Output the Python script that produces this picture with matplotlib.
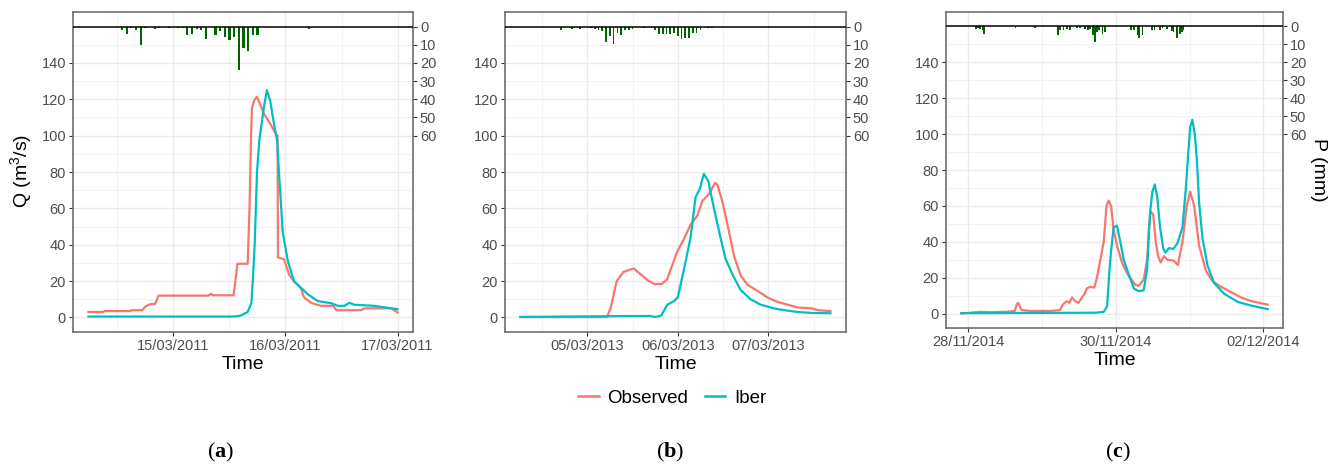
import numpy as np
import pandas as pd
import matplotlib
matplotlib.use("Agg")
import matplotlib.pyplot as plt
from matplotlib.lines import Line2D

plt.rcParams['font.family'] = ['Liberation Sans', 'DejaVu Sans']
plt.rcParams['mathtext.fontset'] = 'custom'
plt.rcParams['mathtext.rm'] = 'Liberation Sans'
plt.rcParams['mathtext.bf'] = 'Liberation Serif:bold'

# ---- Event (a): hours counted from 14/03/2011 00:00 ----
start_a = "2011-03-14"
obs_a_h = [5.8, 8.9, 9.3, 14.7, 15.1, 17.3, 18.0, 19.0, 20.1, 20.8, 31.5, 32.0, 32.5,
           36.9, 37.7, 39.9, 40.3, 40.6, 40.8, 41.3, 41.9, 43.4, 44.9, 45.9, 46.3,
           46.4, 47.7, 48.75, 49.8, 51.3, 52.0, 53.5, 55.6, 58.2, 58.9, 64.2, 64.9,
           70.7, 72.0]
obs_a_q = [3.0, 3.0, 3.5, 3.5, 4.0, 4.0, 6.0, 7.3, 7.5, 12.0, 12.0, 13.0, 12.2,
           12.2, 29.5, 29.5, 60.0, 97.0, 115.0, 119.5, 121.4, 112.0, 105.8, 101.0, 100.0,
           33.0, 32.0, 23.6, 20.0, 16.0, 11.0, 8.0, 6.4, 6.4, 4.0, 4.0, 5.0,
           5.0, 2.7]
iber_a_h = [5.8, 36.9, 38.4, 39.9, 40.7, 41.0, 41.4, 41.9, 42.4, 43.4, 44.0, 44.7,
            45.5, 46.2, 46.6, 47.4, 48.5, 49.8, 51.3, 52.8, 54.9, 57.8, 59.2, 60.6,
            61.7, 62.7, 67.0, 72.0]
iber_a_q = [0.5, 0.5, 1.0, 3.0, 8.0, 20.0, 40.0, 80.0, 97.5, 116.0, 125.0, 119.6,
            107.0, 97.5, 80.0, 47.0, 31.0, 20.0, 16.4, 12.7, 9.0, 7.8, 6.4, 6.4,
            8.0, 7.0, 6.4, 4.5]
rain_a_h = [11, 13, 14, 15, 16, 17, 18, 20, 21, 23, 25, 26, 27, 28, 29, 30, 31,
            33, 34, 35, 36, 37, 38, 39, 40, 41, 42, 53]
rain_a_p = [0.5, 2.0, 3.9, 1.0, 1.7, 10.3, 1.0, 1.3, 1.0, 0.6, 0.6, 1.0, 4.4, 3.9,
            1.3, 1.7, 6.8, 4.6, 2.4, 6.0, 7.3, 5.5, 24.0, 11.6, 13.2, 4.4, 4.4, 1.1]

# ---- Event (b): hours counted from 04/03/2013 00:00 ----
start_b = "2013-03-04"
obs_b_h = [6.3, 29.2, 30.2, 31.8, 33.6, 36.3, 38.0, 40.3, 42.0, 43.8, 45.2, 47.8,
           49.6, 51.4, 53.2, 54.5, 56.3, 57.9, 58.5, 59.8, 61.6, 62.9, 64.7, 66.5,
           69.2, 71.8, 74.5, 77.2, 79.8, 83.4, 85.2, 88.5]
obs_b_q = [0.2, 0.2, 5.0, 20.0, 25.0, 27.0, 24.0, 20.0, 18.3, 18.5, 21.0, 36.0,
           43.0, 51.0, 56.0, 64.0, 68.0, 74.0, 73.0, 64.0, 47.0, 34.0, 23.0, 18.0,
           14.5, 11.0, 8.5, 7.0, 5.5, 5.0, 4.0, 3.5]
iber_b_h = [6.3, 36.7, 40.7, 42.0, 43.6, 45.2, 47.0, 48.0, 49.6, 51.4, 52.7, 53.9,
            54.9, 56.1, 57.6, 59.2, 60.7, 62.9, 64.7, 67.3, 70.0, 73.5, 76.3, 79.8,
            83.4, 88.5]
iber_b_q = [0.3, 0.8, 0.8, 0.3, 1.0, 7.0, 9.0, 11.0, 26.0, 44.0, 66.0, 71.0,
            79.0, 75.0, 60.0, 45.0, 32.0, 22.0, 15.0, 10.0, 7.0, 5.0, 4.0, 3.0,
            2.5, 2.3]
rain_b_h = [16, 17, 18, 20, 22, 25, 26, 27, 28, 29, 30, 31, 32, 33, 34, 35, 36,
            39, 41, 42, 43, 44, 45, 46, 47, 48, 49, 50, 51, 52, 53, 54, 56, 57]
rain_b_p = [0.5, 2.0, 0.5, 1.1, 1.1, 0.9, 1.1, 1.7, 2.4, 8.7, 5.4, 9.4, 3.5, 4.6,
            2.0, 1.7, 1.3, 0.6, 0.9, 1.7, 3.9, 3.9, 3.9, 3.9, 3.5, 5.2, 6.8, 6.5,
            6.5, 3.5, 3.5, 1.7, 0.9, 0.6]

# ---- Event (c): hours counted from 28/11/2014 00:00 ----
start_c = "2014-11-28"
obs_c_h = [-2.2, 3.8, 7.1, 12.0, 15.2, 15.8, 16.3, 17.4, 20.1, 26.7, 29.9, 30.8,
           32.1, 32.9, 33.8, 34.8, 35.9, 37.0, 37.9, 38.6, 39.7, 41.0, 41.9, 43.0,
           44.1, 45.0, 45.7, 46.5, 47.3, 48.4, 50.1, 52.2, 54.4, 55.5, 57.1, 58.2,
           58.8, 59.3, 60.2, 61.0, 61.8, 62.6, 63.7, 64.8, 66.9, 68.2, 69.7, 71.1,
           72.2, 73.5, 75.1, 77.3, 79.5, 82.2, 85.5, 88.7, 92.0, 97.4]
obs_c_q = [0.0, 1.0, 0.8, 1.0, 1.5, 5.0, 6.0, 2.0, 1.5, 1.5, 2.0, 5.0,
           7.0, 6.0, 9.0, 7.0, 6.0, 9.0, 11.0, 14.0, 15.0, 14.5, 20.0, 30.0,
           40.0, 60.0, 63.0, 60.0, 47.0, 38.0, 28.0, 21.0, 16.0, 15.5, 19.0, 30.0,
           47.0, 57.0, 55.0, 40.0, 32.0, 28.5, 32.0, 30.0, 29.5, 27.0, 40.0, 60.0,
           68.0, 60.0, 38.0, 24.0, 18.0, 15.0, 12.0, 9.0, 7.0, 5.0]
iber_c_h = [-2.2, 41.4, 44.1, 45.2, 46.0, 46.5, 47.3, 48.4, 49.5, 50.6, 52.2, 53.9,
            55.5, 57.1, 58.2, 59.1, 59.9, 60.7, 61.5, 62.4, 63.5, 64.2, 65.3, 66.7,
            68.0, 69.7, 70.8, 71.6, 72.2, 72.9, 73.7, 74.4, 75.1, 76.2, 77.8, 80.0,
            83.3, 87.7, 92.0, 97.4]
iber_c_q = [0.3, 0.5, 1.0, 4.0, 25.0, 35.0, 48.0, 49.0, 40.0, 30.0, 22.0, 14.0,
            12.5, 13.0, 25.0, 55.0, 68.0, 72.0, 65.0, 48.0, 36.0, 34.0, 36.5, 36.0,
            39.0, 48.0, 70.0, 90.0, 104.0, 108.0, 100.0, 85.0, 62.0, 42.0, 27.0, 17.0,
            11.0, 6.5, 4.5, 2.5]
rain_c_h = [2.7, 3.3, 3.9, 4.7, 5.3, 15.4, 21.7, 29.3, 29.9, 31.0, 32.1, 33.0,
            35.3, 36.3, 37.9, 38.9, 39.7, 40.6, 41.3, 41.9, 42.6, 43.7, 44.4,
            53.0, 53.9, 55.1, 55.7, 56.7, 59.7, 60.6, 62.4, 63.2, 64.6, 66.2,
            66.8, 67.9, 68.8, 69.5, 70.0]
rain_c_p = [1.5, 1.0, 1.5, 2.2, 4.1, 1.1, 0.7, 5.0, 1.9, 1.9, 1.5, 1.9,
            0.7, 1.1, 1.5, 1.9, 1.5, 4.8, 8.6, 3.0, 1.9, 4.5, 3.0,
            2.2, 2.2, 4.8, 6.7, 4.8, 2.2, 1.9, 2.2, 0.7, 1.5, 2.6,
            3.0, 6.3, 4.1, 3.0, 1.9]

COL_OBS = '#F8766D'
COL_IBER = '#00BFC4'
COL_RAIN = '#006400'
P_ZERO = 160  # Q level where the inverted rainfall axis starts

W, H = 1340, 468
fig = plt.figure(figsize=(W / 100, H / 100), dpi=100)


def to_time(start, hours):
    return (pd.Timestamp(start) + pd.to_timedelta(np.asarray(hours, dtype=float), unit='h')).to_numpy()


def box(l, r, t, b):
    return [l / W, 1 - b / H, (r - l) / W, (b - t) / H]


def draw_panel(rect, start, oh, oq, ih, iq, rh, rp, bar_w, ticks, minors):
    ax = fig.add_axes(rect)
    t_obs = to_time(start, oh)
    t_iber = to_time(start, ih)
    t_rain = to_time(start, rh)

    ax.bar(t_rain, -np.asarray(rp), bottom=P_ZERO, width=bar_w / 24,
           color=COL_RAIN, linewidth=0, zorder=2)
    ax.axhline(P_ZERO, color='black', lw=1.1, zorder=3)
    ax.plot(t_obs, oq, color=COL_OBS, lw=1.6, zorder=4)
    ax.plot(t_iber, iq, color=COL_IBER, lw=1.6, zorder=5)

    lo = min(t_obs.min(), t_iber.min())
    hi = max(t_obs.max(), t_iber.max())
    pad = (hi - lo) * 0.05
    ax.set_xlim(lo - pad, hi + pad)
    ax.set_ylim(-8, 168)

    ax.set_xticks(pd.to_datetime(ticks).to_numpy())
    ax.set_xticklabels(pd.to_datetime(ticks).strftime('%d/%m/%Y'))
    ax.set_xticks(pd.to_datetime(minors).to_numpy(), minor=True)
    ax.set_yticks(np.arange(0, 141, 20))
    ax.set_yticks(np.arange(10, 160, 20), minor=True)

    ax.grid(True, which='major', color='#EBEBEB', lw=1.0, zorder=0)
    ax.grid(True, which='minor', color='#F2F2F2', lw=0.7, zorder=0)
    ax.set_axisbelow(True)
    ax.tick_params(which='major', length=3, width=0.8, color='#333333',
                   labelcolor='#4D4D4D', labelsize=10.5, pad=2)
    ax.tick_params(which='minor', length=0)
    for s in ax.spines.values():
        s.set_color('#6E6E6E')
        s.set_linewidth(1.2)

    sec = ax.secondary_yaxis('right', functions=(lambda q: P_ZERO - q, lambda p: P_ZERO - p))
    sec.set_yticks(np.arange(0, 61, 10))
    sec.tick_params(length=3, width=0.8, color='#333333',
                    labelcolor='#4D4D4D', labelsize=10.5, pad=2)
    sec.spines['right'].set_visible(False)

    ax.set_xlabel('Time', fontsize=14, labelpad=2)
    return ax


ax_a = draw_panel(box(73, 413, 12, 332), start_a, obs_a_h, obs_a_q, iber_a_h, iber_a_q,
                  rain_a_h, rain_a_p, 0.45,
                  ['2011-03-15', '2011-03-16', '2011-03-17'],
                  ['2011-03-14 12:00', '2011-03-15 12:00', '2011-03-16 12:00'])
ax_b = draw_panel(box(505, 846, 12, 332), start_b, obs_b_h, obs_b_q, iber_b_h, iber_b_q,
                  rain_b_h, rain_b_p, 0.45,
                  ['2013-03-05', '2013-03-06', '2013-03-07'],
                  ['2013-03-04 12:00', '2013-03-05 12:00', '2013-03-06 12:00', '2013-03-07 12:00'])
ax_c = draw_panel(box(946, 1283, 12, 328), start_c, obs_c_h, obs_c_q, iber_c_h, iber_c_q,
                  rain_c_h, rain_c_p, 0.6,
                  ['2014-11-28', '2014-11-30', '2014-12-02'],
                  ['2014-11-29', '2014-12-01'])

fig.text(22 / W, 1 - 171 / H, 'Q (m$^{3}$/s)', rotation=90, fontsize=14,
         ha='center', va='center')
fig.text(1318 / W, 1 - 170 / H, 'P (mm)', rotation=-90, fontsize=14,
         ha='center', va='center')

handles = [Line2D([], [], color=COL_OBS, lw=1.8), Line2D([], [], color=COL_IBER, lw=1.8)]
fig.legend(handles, ['Observed', 'Iber'], loc='center', ncol=2,
           bbox_to_anchor=(672 / W, 1 - 398 / H), frameon=False, fontsize=13.5,
           handlelength=1.1, handletextpad=0.45, columnspacing=0.9)

for x, letter in [(221, 'a'), (670, 'b'), (1118, 'c')]:
    fig.text(x / W, 1 - 452 / H, '($\\mathbf{' + letter + '}$)', fontsize=16,
             family='Liberation Serif', ha='center', va='center')

fig.savefig('out.png', dpi=100)
